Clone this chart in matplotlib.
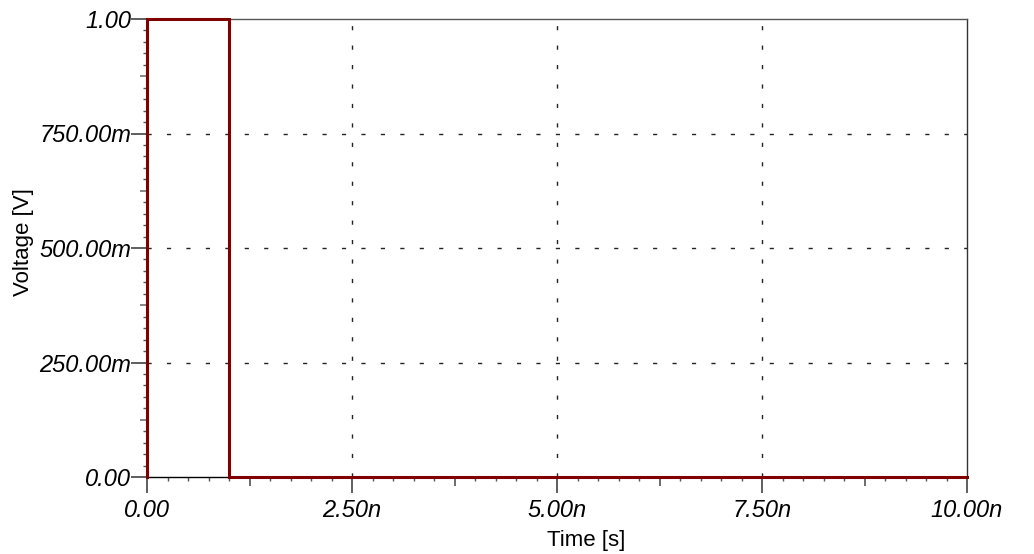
import matplotlib
matplotlib.use("Agg")
import matplotlib.pyplot as plt
from matplotlib.ticker import FixedLocator, NullFormatter

# Pulse waveform (time in ns, voltage in V)
time_ns = [0.0, 0.0, 1.0, 1.0, 10.0]
voltage = [0.0, 1.0, 1.0, 0.0, 0.0]

x_major = [0.0, 2.5, 5.0, 7.5, 10.0]
x_labels = ["0.00", "2.50n", "5.00n", "7.50n", "10.00n"]
y_major = [0.0, 0.25, 0.5, 0.75, 1.0]
y_labels = ["0.00", "250.00m", "500.00m", "750.00m", "1.00"]

# tick subdivisions
x_minor_step, x_mid_step = 0.25, 1.25
y_minor_step, y_mid_step = 0.025, 0.125


def steps(lo, hi, step):
    n = int(round((hi - lo) / step))
    return [lo + i * step for i in range(n + 1)]


def is_multiple(v, step):
    r = v / step
    return abs(r - round(r)) < 1e-6


x_mid = [v for v in steps(0, 10, x_mid_step) if not is_multiple(v, 2.5)]
x_minor = [v for v in steps(0, 10, x_minor_step) if not is_multiple(v, x_mid_step)]
y_mid = [v for v in steps(0, 1, y_mid_step) if not is_multiple(v, 0.25)]
y_minor = [v for v in steps(0, 1, y_minor_step) if not is_multiple(v, y_mid_step)]

W, H = 1034, 554
fig = plt.figure(figsize=(W / 100, H / 100), dpi=100)
ax = fig.add_axes([147 / W, (H - 477) / H, (967 - 147) / W, (477 - 19) / H])

ax.plot(time_ns, voltage, color="#800000", lw=2.2, clip_on=False, zorder=5,
        solid_joinstyle="miter")

ax.set_xlim(0, 10)
ax.set_ylim(0, 1)

# dotted grid at the labelled positions
for x in x_major[1:-1]:
    ax.axvline(x, color="#222222", lw=1.0, ls=(0, (3, 11)), zorder=1)
for y in y_major[1:-1]:
    ax.axhline(y, color="#222222", lw=1.0, ls=(0, (3, 11)), zorder=1)

tick_font = dict(family="Liberation Sans", style="italic", size=17)
ax.xaxis.set_major_locator(FixedLocator(x_major))
ax.set_xticklabels(x_labels, **tick_font)
ax.yaxis.set_major_locator(FixedLocator(y_major))
ax.set_yticklabels(y_labels, **tick_font)
ax.xaxis.set_minor_locator(FixedLocator(x_minor))
ax.yaxis.set_minor_locator(FixedLocator(y_minor))

ax.tick_params(axis="both", which="major", direction="out", length=11.5,
               width=1.1, color="#333333")
ax.tick_params(axis="x", which="major", pad=4)
ax.tick_params(axis="y", which="major", pad=0)
ax.tick_params(axis="both", which="minor", direction="out", length=3,
               width=1, color="#555555")

# intermediate ticks
secx = ax.secondary_xaxis("bottom")
secx.xaxis.set_major_locator(FixedLocator(x_mid))
secx.xaxis.set_major_formatter(NullFormatter())
secx.tick_params(length=6.5, width=1.1, color="#444444")
secx.spines["bottom"].set_visible(False)
secy = ax.secondary_yaxis("left")
secy.yaxis.set_major_locator(FixedLocator(y_mid))
secy.yaxis.set_major_formatter(NullFormatter())
secy.tick_params(length=5, width=1.1, color="#666666")
secy.spines["left"].set_visible(False)

for s in ax.spines.values():
    s.set_linewidth(1.0)
ax.spines["top"].set_color("#555555")
ax.spines["right"].set_color("#333333")
ax.spines["bottom"].set_color("black")
ax.spines["left"].set_color("#555555")

ax.set_xlabel("Time [s]", family="Liberation Sans", size=16, labelpad=9)
ax.xaxis.set_label_coords(0.535, -0.115)
ax.set_ylabel("Voltage [V]", family="Liberation Sans", size=16, labelpad=4)
ax.yaxis.label.set_y(0.514)

fig.savefig("out.png", dpi=100)
